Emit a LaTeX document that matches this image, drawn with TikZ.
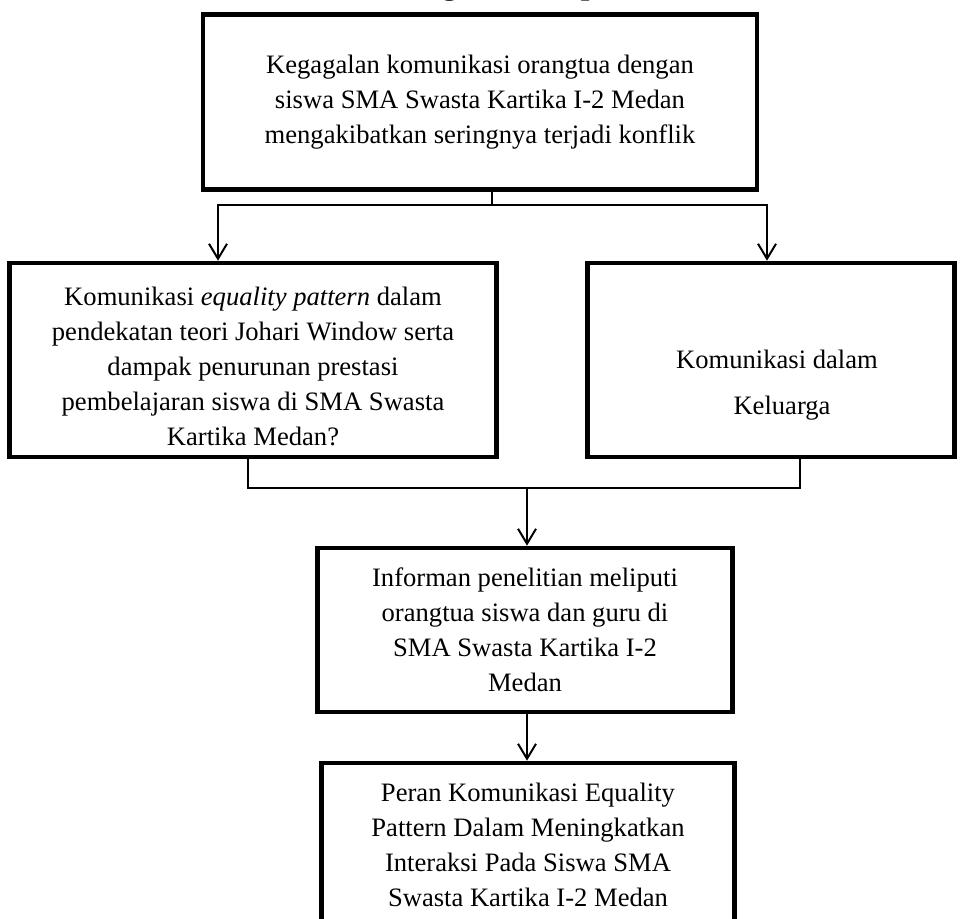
\documentclass[tikz,border=0pt]{standalone}
\usepackage{fontspec}
\setmainfont{Liberation Serif}
\usetikzlibrary{positioning, arrows.meta}
\tikzstyle{block} = [draw, line width=2.3pt, fill=white, rectangle,
    align=center, inner sep=0pt, font=\fontsize{13.3}{17.5}\selectfont]
\tikzstyle{line} = [line width=1pt]
\tikzstyle{arrow} = [line width=1pt, -{Straight Barb[length=7.5pt,width=9pt]}]

\begin{document}
\begin{tikzpicture}[x=0.5pt, y=-0.5pt]
    \useasboundingbox (0,0) rectangle (962,918);
    \clip (0,0) rectangle (962,918);

    \node [font=\bfseries\fontsize{15.5}{18}\selectfont, anchor=base] (title) at (478,-6) {Kerangka Konsep};

    \node [block, minimum width=277pt, minimum height=87.5pt] (gagal) at (480,102) {Kegagalan komunikasi orangtua dengan \\ siswa SMA Swasta Kartika I-2 Medan \\ mengakibatkan seringnya terjadi konflik};
    \node [block, minimum width=243.5pt, minimum height=97pt] (pola) at (253,360) {\rule{0pt}{16pt}Komunikasi \textit{equality pattern} dalam \\ pendekatan teori Johari Window serta \\ dampak penurunan prestasi \\ pembelajaran siswa di SMA Swasta \\ Kartika Medan?};
    \node [block, minimum width=183.5pt, minimum height=97pt] (keluarga) at (771,360) {\rule{0pt}{34pt}\hspace*{6pt}Komunikasi dalam \\[5.4pt] \hspace*{11pt}Keluarga};

    \node [block, minimum width=207.5pt, minimum height=82pt] (informan) at (525,630) {Informan penelitian meliputi \\ orangtua siswa dan guru di \\ SMA Swasta Kartika I-2 \\ Medan};
    \node [block, minimum width=206.5pt, minimum height=82pt] (peran) at (528,845) {Peran Komunikasi Equality \\ Pattern Dalam Meningkatkan \\ Interaksi Pada Siswa SMA \\ Swasta Kartika I-2 Medan};

    % cabang atas
    \coordinate (split) at (492,205);
    \draw [line] (gagal.south -| split) -- (split);
    \draw [arrow] (split) -| ([xshift=-17.5pt]pola.north);
    \draw [arrow] (split) -| ([xshift=-2pt]keluarga.north);

    % gabung bawah
    \coordinate (merge) at (527,488);
    \draw [line] ([xshift=-2.5pt]pola.south) |- (merge) -| ([xshift=14.5pt]keluarga.south);
    \draw [arrow] (merge) -- (merge |- informan.north);
    \draw [arrow] (informan.south -| merge) -- (peran.north -| merge);

\end{tikzpicture}
\end{document}
